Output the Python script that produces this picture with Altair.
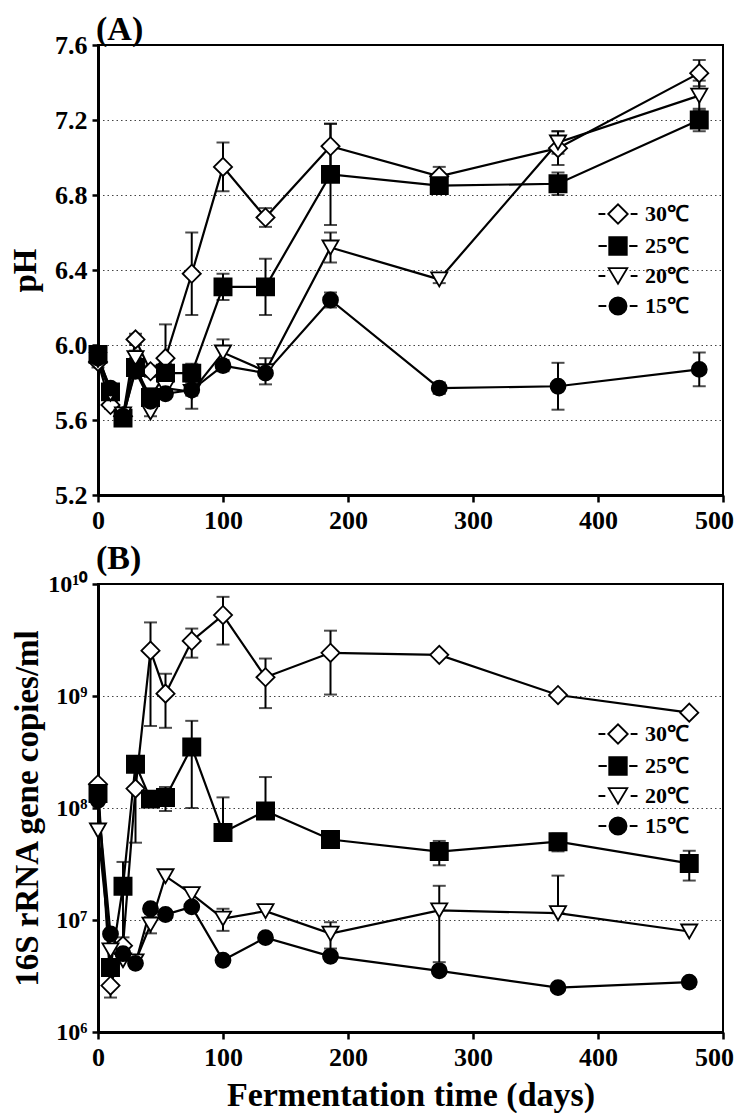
import altair as alt
import pandas as pd

FONT = "Liberation Serif"
SERIES = ["30℃", "25℃", "20℃", "15℃"]
SHAPES = ["diamond", "square", "triangle-down", "circle"]
FILLS = ["white", "black", "white", "black"]
SIZES = [330, 225, 240, 256]
LEGEND_PATHS = [
    "M-2,0H-1.3M-1,0L0,-1L1,0L0,1ZM1.3,0H2",
    "M-2,0H-1.15M-0.9,-0.9H0.9V0.9H-0.9ZM1.15,0H2",
    "M-2,0H-1.3M-0.95,-0.8L0.95,-0.8L0,0.8ZM1.3,0H2",
    "M-2,0H-1.2M-0.88,0A0.88,0.88,0,1,0,0.88,0A0.88,0.88,0,1,0,-0.88,0ZM1.2,0H2",
]

# ---------------- Panel A: pH ----------------
DAYS_A = [0, 10, 20, 30, 42, 54, 75, 100, 134, 186, 273, 368, 481]
PH_30 = [5.91, 5.68, 5.62, 6.03, 5.86, 5.93, 6.38, 6.95, 6.68, 7.06, 6.90, 7.05, 7.45]
PH_30_ERR = [0.03, 0.02, 0.02, 0.03, 0.03, 0.18, 0.22, 0.13, 0.05, 0.12, 0.05, 0.09, 0.07]
PH_25 = [5.95, 5.75, 5.61, 5.88, 5.72, 5.85, 5.85, 6.31, 6.31, 6.91, 6.85, 6.86, 7.20]
PH_25_ERR = [0.03, 0.03, 0.02, 0.05, 0.05, 0.05, 0.05, 0.07, 0.15, 0.27, 0.03, 0.06, 0.06]
PH_20 = [5.92, 5.74, 5.63, 5.93, 5.64, 5.77, 5.75, 5.96, 5.86, 6.52, 6.35, 7.08, 7.33]
PH_20_ERR = [0.02, 0.02, 0.02, 0.04, 0.02, 0.03, 0.09, 0.07, 0.07, 0.08, 0.02, 0.06, 0.08]
PH_15 = [5.93, 5.77, 5.62, 5.86, 5.70, 5.74, 5.76, 5.89, 5.85, 6.24, 5.77, 5.78, 5.87]
PH_15_ERR = [0.02, 0.02, 0.02, 0.03, 0.03, 0.02, 0.03, 0.03, 0.02, 0.04, 0.03, 0.125, 0.09]

# ---------------- Panel B: 16S rRNA gene copies/ml ----------------
DAYS_B = [0, 10, 20, 30, 42, 54, 75, 100, 134, 186, 273, 368, 473]
RNA_30 = [1.63e8, 2.6e6, 5.9e6, 1.49e8, 2.54e9, 1.05e9, 3.1e9, 5.28e9, 1.47e9, 2.43e9, 2.33e9, 1.02e9, 7.1e8]
RNA_30_ERR = [0, 0.57e6, 0, 1.0e8, 2.0e9, 0.53e9, 0.9e9, 2.4e9, 0.69e9, 1.4e9, 0, 0, 0]
RNA_25 = [1.35e8, 3.76e6, 2.0e7, 2.46e8, 1.2e8, 1.24e8, 3.5e8, 6.04e7, 9.4e7, 5.23e7, 4.08e7, 5.0e7, 3.2e7]
RNA_25_ERR = [0, 0.3e6, 1.3e7, 0, 0.1e8, 0.3e8, 2.5e8, 0.64e8, 0.95e8, 0.3e7, 1.0e7, 0.9e7, 0.95e7]
RNA_20 = [6.3e7, 5.36e6, 4.37e6, 4.28e6, 9.1e6, 2.46e7, 1.7e7, 1.03e7, 1.2e7, 7.56e6, 1.22e7, 1.15e7, 7.9e6]
RNA_20_ERR = [0, 0, 0, 0, 1.5e6, 0, 0, 2.3e6, 0, 2.0e6, 0.8e7, 1.34e7, 0]
RNA_15 = [1.17e8, 7.5e6, 5.0e6, 4.1e6, 1.26e7, 1.12e7, 1.31e7, 4.37e6, 6.96e6, 4.74e6, 3.52e6, 2.49e6, 2.79e6]
RNA_15_ERR = [0, 0, 0, 0, 0, 0, 0, 0, 0, 0, 0, 0, 0.25e6]


def long_frame(days, values, errs):
    rows = []
    for s, vals, es in zip(SERIES, values, errs):
        for d, v, e in zip(days, vals, es):
            lo = v - e
            if lo <= 0:
                lo = v
            rows.append({"series": s, "day": d, "value": v, "lo": lo, "hi": v + e, "err": e})
    return pd.DataFrame(rows)


df_a = long_frame(DAYS_A, [PH_30, PH_25, PH_20, PH_15], [PH_30_ERR, PH_25_ERR, PH_20_ERR, PH_15_ERR])
df_b = long_frame(DAYS_B, [RNA_30, RNA_25, RNA_20, RNA_15], [RNA_30_ERR, RNA_25_ERR, RNA_20_ERR, RNA_15_ERR])


def panel(df, y_scale, y_axis, x_axis, title, title_y, legend_y, height):
    X = alt.X("day:Q", scale=alt.Scale(domain=[0, 500], nice=False), axis=x_axis)
    Y = alt.Y("value:Q", scale=y_scale, axis=y_axis)
    base = alt.Chart(df)
    lines = base.mark_line(color="black", strokeWidth=2.2).encode(
        x=X, y=Y, detail="series:N", order="day:Q"
    )
    errs = base.transform_filter("datum.err > 0")
    rules = errs.mark_rule(color="black", strokeWidth=2).encode(
        x=X, y=alt.Y("lo:Q", scale=y_scale, axis=y_axis), y2="hi:Q"
    )
    caps_hi = errs.mark_tick(color="black", orient="horizontal", size=13, thickness=2).encode(
        x=X, y=alt.Y("hi:Q", scale=y_scale, axis=y_axis)
    )
    caps_lo = errs.mark_tick(color="black", orient="horizontal", size=13, thickness=2).encode(
        x=X, y=alt.Y("lo:Q", scale=y_scale, axis=y_axis)
    )
    points = base.mark_point(stroke="black", strokeWidth=1.8, opacity=1).encode(
        x=X,
        y=Y,
        shape=alt.Shape("series:N", scale=alt.Scale(domain=SERIES, range=SHAPES), legend=None),
        fill=alt.Fill("series:N", scale=alt.Scale(domain=SERIES, range=FILLS), legend=None),
        size=alt.Size("series:N", scale=alt.Scale(domain=SERIES, range=SIZES), legend=None),
    )
    leg = alt.Legend(
        title=None,
        orient="none",
        legendX=509,
        legendY=legend_y,
        symbolSize=380,
        symbolStrokeWidth=1.8,
        labelOffset=16,
        rowPadding=5,
        labelFont=FONT,
        labelFontSize=22,
        labelFontWeight="bold",
        labelColor="black",
        padding=0,
    )
    legend_layer = base.transform_filter("false").mark_point(
        stroke="black", strokeWidth=1.8, opacity=1
    ).encode(
        x=X,
        y=Y,
        shape=alt.Shape("series:N", scale=alt.Scale(domain=SERIES, range=LEGEND_PATHS), legend=leg),
        fill=alt.Fill("series:N", scale=alt.Scale(domain=SERIES, range=FILLS), legend=leg),
    )
    title_layer = alt.Chart(pd.DataFrame({"label": [title]})).mark_text(
        align="left", baseline="top", font=FONT, fontSize=34, fontWeight="bold", color="black"
    ).encode(text="label:N", x=alt.value(-2), y=alt.value(title_y))
    return (
        alt.layer(lines, rules, caps_hi, caps_lo, points, legend_layer, title_layer)
        .resolve_scale(shape="independent", fill="independent", size="independent")
        .properties(width=625, height=height)
    )


common_axis = dict(
    domainColor="black", domainWidth=3, tickColor="black", tickWidth=2.5,
    labelFont=FONT, labelFontWeight="bold", labelColor="black",
    titleFont=FONT, titleFontWeight="bold", titleColor="black",
)
last_label_shift = {"condition": {"test": "datum.value > 450", "value": -9}, "value": 0}

x_axis_a = alt.Axis(values=[0, 100, 200, 300, 400, 500], title=None, grid=False, labelFlush=False,
                    labelOffset=last_label_shift,
                    tickSize=7, labelPadding=5, labelFontSize=26, **common_axis)
x_axis_b = alt.Axis(values=[0, 100, 200, 300, 400, 500], title="Fermentation time (days)", grid=False,
                    labelFlush=False, labelOffset=last_label_shift,
                    tickSize=7, labelPadding=5, labelFontSize=26, titleFontSize=34,
                    titlePadding=8, **common_axis)

y_axis_a = alt.Axis(
    values=[5.2, 5.6, 6.0, 6.4, 6.8, 7.2, 7.6], format=".1f", title="pH", titleFontSize=33,
    titlePadding=12, tickSize=6, labelPadding=5, labelFontSize=26,
    grid=True, gridColor="#444", gridDash=[1.5, 3], gridWidth=1,
    gridOpacity={"condition": {"test": "datum.value < 5.3 || datum.value > 7.5", "value": 0}, "value": 1},
    **common_axis,
)
y_axis_b = alt.Axis(
    values=[1e6, 1e7, 1e8, 1e9, 1e10], title="16S rRNA gene copies/ml", titleFontSize=33,
    titlePadding=3, tickSize=6, labelPadding=5, labelFontSize=24,
    labelExpr="datum.value > 5e9 ? '10¹⁰' : datum.value > 5e8 ? '10⁹' : datum.value > 5e7 ? '10⁸' : datum.value > 5e6 ? '10⁷' : '10⁶'",
    grid=True, gridColor="#444", gridDash=[1.5, 3], gridWidth=1,
    gridOpacity={"condition": {"test": "datum.value < 2e6 || datum.value > 5e9", "value": 0}, "value": 1},
    **common_axis,
)

chart_a = panel(df_a, alt.Scale(domain=[5.2, 7.6], nice=False, zero=False), y_axis_a, x_axis_a,
                "(A)", -32, 158, 450)
chart_b = panel(df_b, alt.Scale(type="log", domain=[1e6, 1e10], nice=False), y_axis_b, x_axis_b,
                "(B)", -42, 139, 448)

chart = (
    alt.vconcat(chart_a, chart_b, spacing=7)
    .properties(padding={"left": 0, "top": 4, "right": 0, "bottom": 0}, background="white")
    .configure_view(stroke="black", strokeWidth=2)
)

chart.save("out.html", embed_options={"renderer": "svg", "actions": False})
